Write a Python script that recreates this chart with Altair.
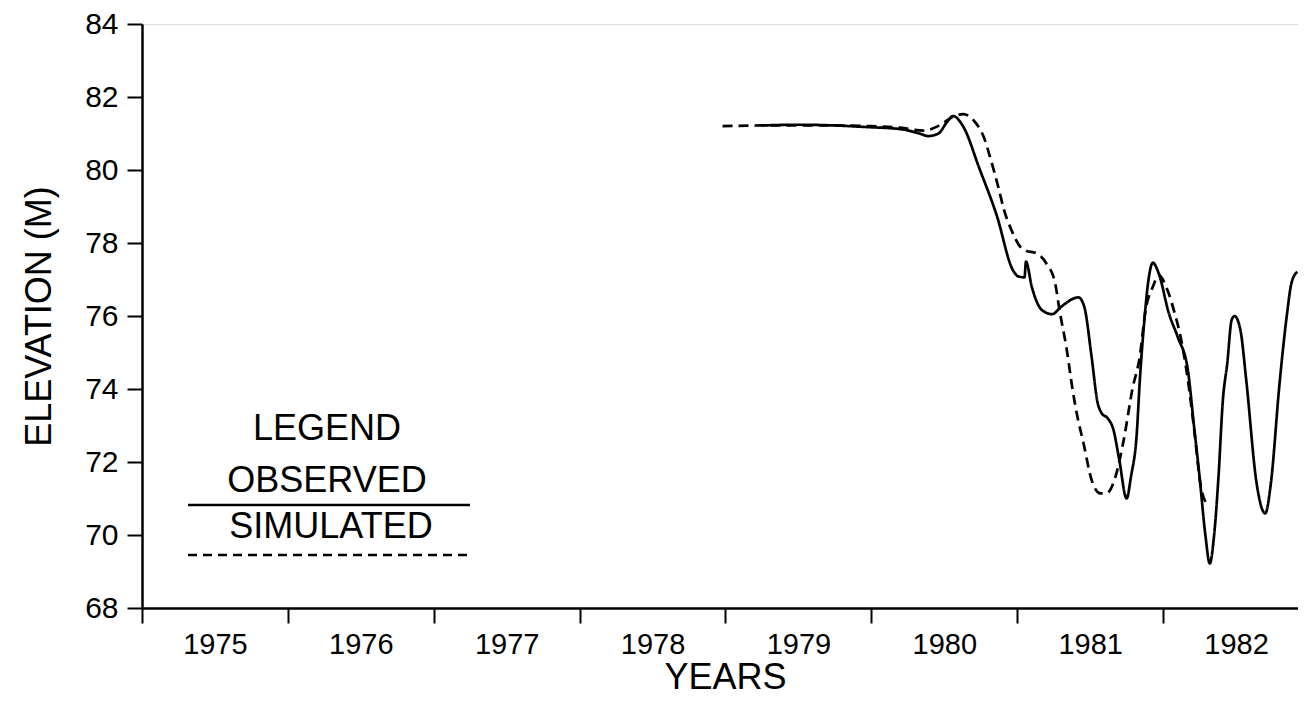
import altair as alt
import pandas as pd

# Observed (solid) series
obs_year = [1979.25, 1979.50, 1979.75, 1979.95, 1980.20, 1980.33, 1980.39, 1980.46, 1980.52, 1980.56,
            1980.63, 1980.74, 1980.86, 1980.97, 1981.01, 1981.05, 1981.06, 1981.10, 1981.17, 1981.24,
            1981.30, 1981.42, 1981.46, 1981.51, 1981.55, 1981.58, 1981.62, 1981.66, 1981.70, 1981.75,
            1981.78, 1981.82, 1981.84, 1981.87, 1981.90, 1981.93, 1981.97, 1982.04, 1982.10, 1982.17,
            1982.21, 1982.25, 1982.29, 1982.32, 1982.35, 1982.38, 1982.41, 1982.44, 1982.47, 1982.49,
            1982.53, 1982.57, 1982.64, 1982.70, 1982.74, 1982.795, 1982.85, 1982.88, 1982.92]
obs_elev = [81.22, 81.24, 81.22, 81.18, 81.12, 81.00, 80.93, 81.00, 81.32, 81.48,
            81.19, 80.05, 78.75, 77.26, 77.08, 77.06, 77.49, 76.80, 76.16, 76.05,
            76.25, 76.51, 76.25, 74.88, 73.65, 73.33, 73.20, 72.88, 72.05, 71.00,
            71.60, 72.80, 74.20, 75.80, 76.99, 77.46, 77.17, 76.07, 75.43, 74.52,
            73.06, 71.60, 70.00, 69.22, 70.00, 71.60, 73.70, 74.70, 75.89, 76.00,
            75.62, 74.25, 71.45, 70.59, 71.45, 74.00, 76.07, 76.90, 77.21]

# Simulated (dashed) series
sim_year = [1978.98, 1979.25, 1979.50, 1979.75, 1980.00, 1980.20, 1980.36, 1980.47, 1980.56, 1980.63,
            1980.71, 1980.77, 1980.82, 1980.87, 1980.91, 1980.96, 1981.02, 1981.06, 1981.13, 1981.20,
            1981.26, 1981.29, 1981.34, 1981.38, 1981.42, 1981.45, 1981.51, 1981.57, 1981.61, 1981.67,
            1981.73, 1981.79, 1981.84, 1981.88, 1981.93, 1981.97, 1982.03, 1982.08, 1982.12, 1982.17,
            1982.21, 1982.26, 1982.30]
sim_elev = [81.20, 81.22, 81.22, 81.22, 81.20, 81.16, 81.08, 81.23, 81.46, 81.53,
            81.32, 80.91, 80.27, 79.54, 78.90, 78.36, 77.90, 77.79, 77.72, 77.44,
            76.90, 76.16, 75.07, 73.97, 73.10, 72.60, 71.51, 71.14, 71.14, 71.55,
            72.60, 74.00, 74.88, 76.16, 76.80, 77.12, 76.71, 76.07, 75.43, 74.25,
            73.00, 71.30, 70.85]

series_names = ["OBSERVED", "SIMULATED"]
year_ticks = [1975, 1976, 1977, 1978, 1979, 1980, 1981, 1982]
elev_ticks = [68, 70, 72, 74, 76, 78, 80, 82, 84]
legend_title = "LEGEND"

df = pd.concat([
    pd.DataFrame({"year": obs_year, "elev": obs_elev, "series": series_names[0]}),
    pd.DataFrame({"year": sim_year, "elev": sim_elev, "series": series_names[1]}),
], ignore_index=True)

FONT = "Liberation Sans"
W, H = 1156, 584
X_DOMAIN = [1975, 1982.925]
half_year_px = W / (X_DOMAIN[1] - X_DOMAIN[0]) / 2

lines = alt.Chart(df).mark_line(interpolate="monotone", strokeWidth=2.7, color="black").encode(
    x=alt.X("year:Q", scale=alt.Scale(domain=X_DOMAIN, nice=False, zero=False),
            axis=alt.Axis(values=year_ticks, format="d", labelOffset=half_year_px,
                          tickSize=15, tickWidth=2, tickColor="black",
                          domainColor="black", domainWidth=2.5, grid=False,
                          labelFont=FONT, labelFontSize=29, labelColor="black", labelPadding=7,
                          labelOverlap=False, labelFlush=False,
                          title="YEARS", titleFont=FONT, titleFontSize=36, titleFontWeight="normal",
                          titleColor="black", titleX=583, titleY=80,
                          titleBaseline="alphabetic", titleAlign="center")),
    y=alt.Y("elev:Q", scale=alt.Scale(domain=[68, 84], nice=False, zero=False),
            axis=alt.Axis(values=elev_ticks, tickSize=15, tickWidth=2, tickColor="black",
                          domainColor="black", domainWidth=2.5, grid=False,
                          labelFont=FONT, labelFontSize=30, labelColor="black", labelPadding=9,
                          title="ELEVATION (M)", titleFont=FONT, titleFontSize=36,
                          titleFontWeight="normal", titleColor="black",
                          titleAngle=270, titleX=-92, titleY=H / 2,
                          titleBaseline="alphabetic", titleAlign="center")),
    strokeDash=alt.StrokeDash("series:N", scale=alt.Scale(domain=series_names, range=[[1, 0], [10, 6]]),
                              legend=None),
    detail="series:N",
)

def legend_text(label, px, py):
    return alt.Chart(pd.DataFrame({"t": [label]})).mark_text(
        font=FONT, fontSize=36, color="black", align="center", baseline="middle"
    ).encode(text="t:N", x=alt.value(px), y=alt.value(py))

def legend_rule(name, py, dash):
    return alt.Chart(pd.DataFrame({"s": [name]})).mark_rule(
        color="black", strokeWidth=2.5, strokeDash=dash
    ).encode(x=alt.value(46), x2=alt.value(328), y=alt.value(py))

chart = alt.layer(
    lines,
    legend_text(legend_title, 185, 405),
    legend_text(series_names[0], 185, 457),
    legend_rule(series_names[0], 481, [1, 0]),
    legend_text(series_names[1], 189, 503),
    legend_rule(series_names[1], 531, [9, 6]),
).properties(
    width=W, height=H,
    autosize=alt.AutoSizeParams(type="none"),
    padding={"left": 134, "top": 16, "right": 0, "bottom": 88},
).configure_view(stroke=None).configure(background="white")

chart.save("out.html", embed_options={"renderer": "svg", "actions": False})
